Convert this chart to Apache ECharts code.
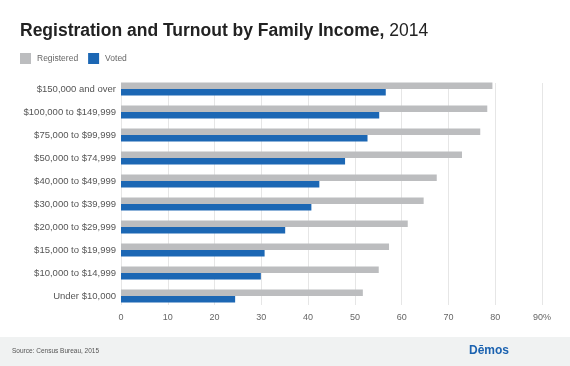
<!DOCTYPE html>
<html><head><meta charset="utf-8">
<script src="https://cdn.jsdelivr.net/npm/echarts@6/dist/echarts.min.js"></script>
<style>html,body{margin:0;padding:0;background:#fff}#c{width:570px;height:366px}</style>
</head><body><div id="c"></div>
<script>
const categories = ["$150,000 and over","$100,000 to $149,999","$75,000 to $99,999","$50,000 to $74,999","$40,000 to $49,999","$30,000 to $39,999","$20,000 to $29,999","$15,000 to $19,999","$10,000 to $14,999","Under $10,000"];
const registered = [79.4, 78.3, 76.8, 72.9, 67.5, 64.7, 61.3, 57.3, 55.1, 51.7];
const voted = [56.6, 55.2, 52.7, 47.9, 42.4, 40.7, 35.1, 30.7, 29.9, 24.4];
const xTicks = [0, 10, 20, 30, 40, 50, 60, 70, 80, 90];

const chart = echarts.init(document.getElementById('c'), null, {renderer: 'canvas'});
const font = 'Liberation Sans, Arial, Helvetica, sans-serif';
const xMin = xTicks[0], xMax = xTicks[xTicks.length - 1];
chart.setOption({
  backgroundColor: '#ffffff',
  animation: false,
  textStyle: {fontFamily: font},
  title: {
    text: '{b|Registration and Turnout by Family Income,} {n|2014}',
    left: 15, top: 17,
    textStyle: {
      rich: {
        b: {fontFamily: font, fontSize: 17.5, fontWeight: 'bold', color: '#222222'},
        n: {fontFamily: font, fontSize: 17.5, fontWeight: 'normal', color: '#222222'}
      }
    }
  },
  legend: {
    left: 15, top: 48,
    itemWidth: 11, itemHeight: 11, itemGap: 10,
    icon: 'rect',
    textStyle: {fontFamily: font, fontSize: 8.5, color: '#666666', padding: [0, 0, 0, 1]},
    data: ['Registered', 'Voted']
  },
  grid: [
    {left: 121, right: 28, top: 83, bottom: 61, containLabel: false},
    {left: 121, right: 28, top: 77.5, bottom: 58.5, containLabel: false}
  ],
  xAxis: [
    {
      type: 'value', gridIndex: 0, min: xMin, max: xMax, interval: 10,
      axisLine: {show: false}, axisTick: {show: false},
      splitLine: {lineStyle: {color: '#e6e6e6', width: 1}},
      axisLabel: {
        color: '#666666', fontSize: 9, fontFamily: font, margin: 8,
        formatter: v => v === 90 ? v + '%' : String(v)
      }
    },
    {
      type: 'value', gridIndex: 1, min: xMin, max: xMax, interval: 10,
      axisLine: {show: false}, axisTick: {show: false},
      splitLine: {show: false}, axisLabel: {show: false}
    }
  ],
  yAxis: [
    {type: 'category', gridIndex: 0, data: categories, inverse: true, show: false},
    {
      type: 'category', gridIndex: 1, data: categories, inverse: true,
      axisLine: {show: false}, axisTick: {show: false},
      axisLabel: {color: '#555555', fontSize: 9.5, fontFamily: font, margin: 5}
    }
  ],
  series: [
    {name: 'Registered', type: 'bar', xAxisIndex: 1, yAxisIndex: 1, data: registered, barWidth: 6.5, barGap: '0%',
     itemStyle: {color: '#bcbdbf'}},
    {name: 'Voted', type: 'bar', xAxisIndex: 1, yAxisIndex: 1, data: voted, barWidth: 6.5, barGap: '0%',
     itemStyle: {color: '#1c67b4'}}
  ],
  graphic: [
    {type: 'rect', left: 0, top: 337, shape: {width: 570, height: 29}, style: {fill: '#f0f2f2'}, z: -1},
    {type: 'text', left: 12, top: 348, style: {text: 'Source: Census Bureau, 2015', fill: '#555555', font: '6.5px ' + font}},
    {type: 'text', left: 469, top: 345, style: {text: 'Dēmos', fill: '#1b62b0', font: 'bold 12px ' + font}}
  ]
});
</script></body></html>
